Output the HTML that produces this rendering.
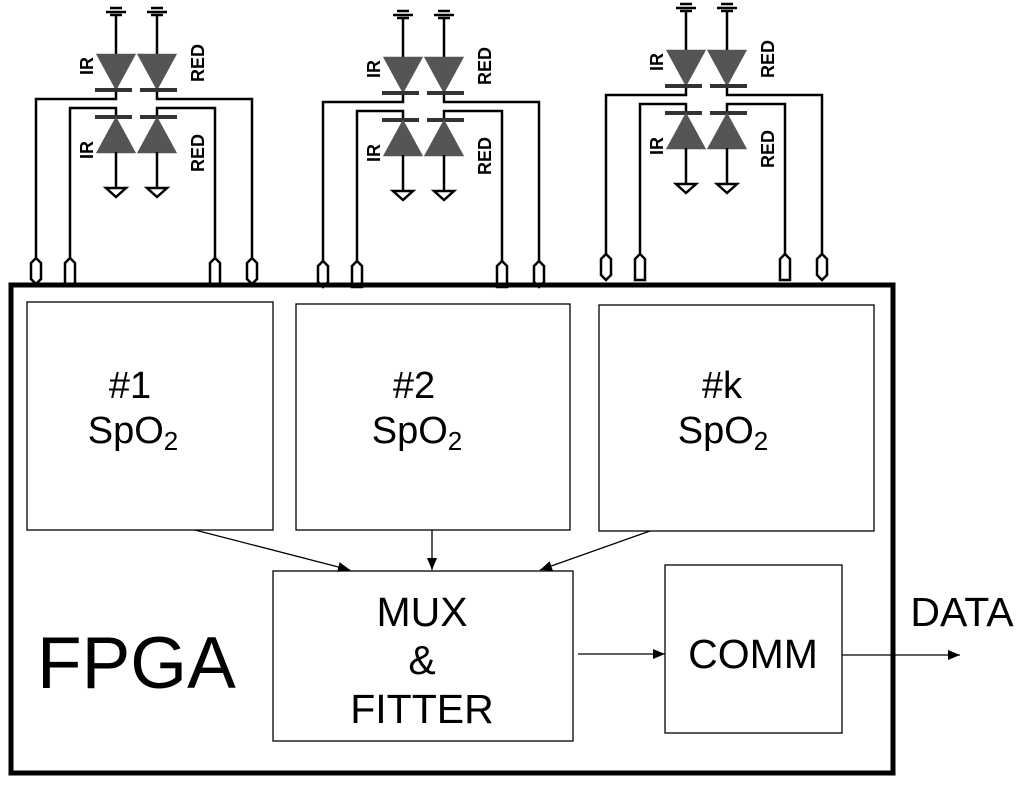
<!DOCTYPE html>
<html><head><meta charset="utf-8"><style>
html,body{margin:0;padding:0;background:#fff;}
svg{display:block;}
text{font-family:"Liberation Sans",Arial,sans-serif;}
</style></head><body>
<svg width="1024" height="785" viewBox="0 0 1024 785" xmlns="http://www.w3.org/2000/svg">
<defs>
<g id="ckt" stroke="#000" stroke-width="2.5" fill="none">
  <line x1="110" y1="8" x2="122" y2="8"/><line x1="106" y1="12" x2="126" y2="12"/><line x1="110" y1="15" x2="122" y2="15"/>
  <line x1="151" y1="8" x2="163" y2="8"/><line x1="147" y1="12" x2="167" y2="12"/><line x1="151" y1="15" x2="163" y2="15"/>
  <line x1="116" y1="15" x2="116" y2="55"/><line x1="157" y1="15" x2="157" y2="55"/>
  <polygon points="98,55 134,55 116,88" fill="#555" stroke="#555"/>
  <polygon points="139,55 175,55 157,88" fill="#555" stroke="#555"/>
  <rect x="95" y="88" width="37" height="4" fill="#333" stroke="none"/>
  <rect x="140" y="88" width="37" height="4" fill="#333" stroke="none"/>
  <polyline points="116,92 116,99 36,99 36,258"/>
  <polyline points="157,92 157,99 252,99 252,258"/>
  <polyline points="116,115 116,108 70,108 70,258"/>
  <polyline points="157,115 157,108 215,108 215,258"/>
  <rect x="95" y="115" width="37" height="4" fill="#333" stroke="none"/>
  <rect x="140" y="115" width="37" height="4" fill="#333" stroke="none"/>
  <polygon points="98,152 134,152 116,119" fill="#555" stroke="#555"/>
  <polygon points="139,152 175,152 157,119" fill="#555" stroke="#555"/>
  <line x1="116" y1="152" x2="116" y2="188"/><line x1="157" y1="152" x2="157" y2="188"/>
  <polygon points="106,188 126,188 116,197" fill="#fff"/>
  <polygon points="147,188 167,188 157,197" fill="#fff"/>
  <polygon points="36,258 41,263 41,279 36,284 31,279 31,263" fill="#fff"/>
  <polygon points="70,258 75,263 75,284 65,284 65,263" fill="#fff"/>
  <polygon points="215,258 220,263 220,284 210,284 210,263" fill="#fff"/>
  <polygon points="252,258 257,263 257,279 252,284 247,279 247,263" fill="#fff"/>
  <g stroke="none" fill="#000" font-weight="bold" font-size="18" text-anchor="middle">
    <text transform="translate(93,66) rotate(-90)">IR</text>
    <text transform="translate(204,63) rotate(-90)">RED</text>
    <text transform="translate(93,150) rotate(-90)">IR</text>
    <text transform="translate(204,153) rotate(-90)">RED</text>
  </g>
</g>
<marker id="ah" markerWidth="12" markerHeight="10" refX="12" refY="5" orient="auto" markerUnits="userSpaceOnUse">
  <polygon points="0,0 12,5 0,10" fill="#000"/>
</marker>
</defs>
<use href="#ckt" x="0" y="0"/>
<use href="#ckt" x="287" y="3"/>
<use href="#ckt" x="570" y="-4"/>
<rect x="11" y="285" width="882" height="488" fill="none" stroke="#000" stroke-width="5"/>
<g fill="none" stroke="#000" stroke-width="1.3">
<rect x="27" y="302" width="246" height="228"/>
<rect x="296" y="304" width="274" height="226"/>
<rect x="599" y="305" width="275" height="226"/>
<rect x="273" y="571" width="300" height="170"/>
<rect x="665" y="565" width="177" height="168"/>
<line x1="195" y1="530" x2="350" y2="570" marker-end="url(#ah)"/>
<line x1="432" y1="530" x2="432" y2="570" marker-end="url(#ah)"/>
<line x1="650" y1="531" x2="540" y2="570" marker-end="url(#ah)"/>
<line x1="578" y1="654" x2="665" y2="654" marker-end="url(#ah)"/>
<line x1="842" y1="655" x2="960" y2="655" marker-end="url(#ah)"/>
</g>
<g font-size="38" text-anchor="middle" fill="#000">
<text x="130" y="398">#1</text><text x="133" y="443">SpO<tspan font-size="26" dy="7">2</tspan></text>
<text x="414" y="398">#2</text><text x="417" y="443">SpO<tspan font-size="26" dy="7">2</tspan></text>
<text x="722" y="398">#k</text><text x="723" y="443">SpO<tspan font-size="26" dy="7">2</tspan></text>
<text x="422" y="626" font-size="41">MUX</text>
<text x="422" y="674" font-size="41">&amp;</text>
<text x="422" y="723" font-size="41">FITTER</text>
<text x="753" y="668" font-size="41">COMM</text>
<text x="962" y="626" font-size="41">DATA</text>
</g>
<text x="37" y="688" font-size="73" fill="#000">FPGA</text>
</svg>
</body></html>
